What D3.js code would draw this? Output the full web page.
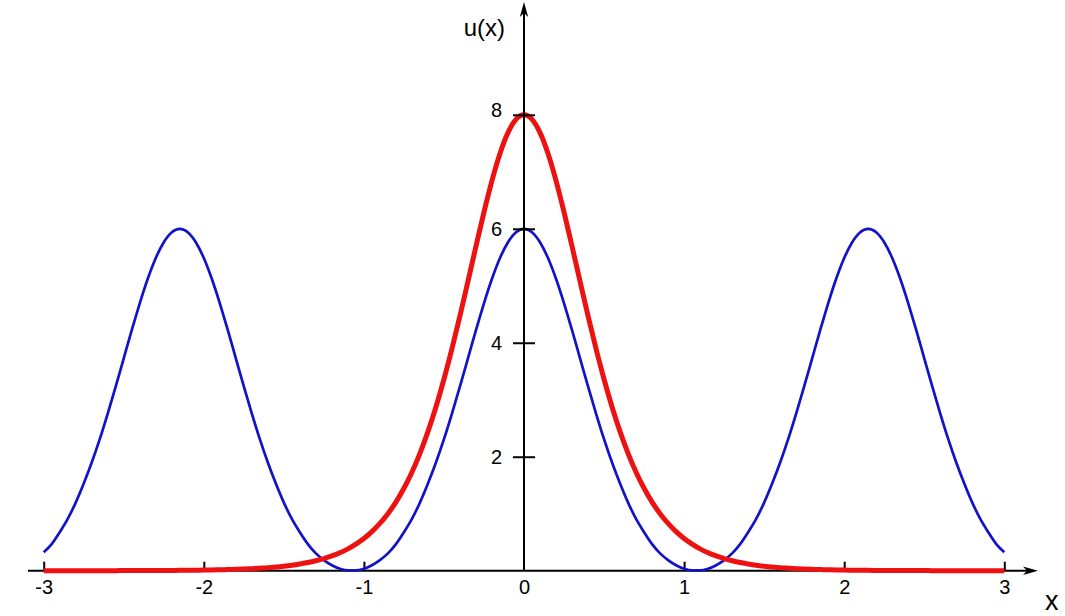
<!DOCTYPE html>
<html>
<head>
<meta charset="utf-8">
<script src="https://cdn.jsdelivr.net/npm/d3@7"></script>
<style>
  html, body { margin: 0; padding: 0; background: #fff; }
  svg { display: block; }
  text { font-family: "Liberation Sans", Arial, sans-serif; fill: #000; }
</style>
</head>
<body>
<svg id="chart" width="1065" height="616"></svg>
<script>
// ---- data ----
const xSamples = [
  -3.00,-2.95,-2.90,-2.85,-2.80,-2.75,-2.70,-2.65,-2.60,-2.55,
  -2.50,-2.45,-2.40,-2.35,-2.30,-2.25,-2.20,-2.15,-2.10,-2.05,
  -2.00,-1.95,-1.90,-1.85,-1.80,-1.75,-1.70,-1.65,-1.60,-1.55,
  -1.50,-1.45,-1.40,-1.35,-1.30,-1.25,-1.20,-1.15,-1.10,-1.05,
  -1.00,-0.95,-0.90,-0.85,-0.80,-0.75,-0.70,-0.65,-0.60,-0.55,
  -0.50,-0.45,-0.40,-0.35,-0.30,-0.25,-0.20,-0.15,-0.10,-0.05,
   0.00,
   0.05, 0.10, 0.15, 0.20, 0.25, 0.30, 0.35, 0.40, 0.45, 0.50,
   0.55, 0.60, 0.65, 0.70, 0.75, 0.80, 0.85, 0.90, 0.95, 1.00,
   1.05, 1.10, 1.15, 1.20, 1.25, 1.30, 1.35, 1.40, 1.45, 1.50,
   1.55, 1.60, 1.65, 1.70, 1.75, 1.80, 1.85, 1.90, 1.95, 2.00,
   2.05, 2.10, 2.15, 2.20, 2.25, 2.30, 2.35, 2.40, 2.45, 2.50,
   2.55, 2.60, 2.65, 2.70, 2.75, 2.80, 2.85, 2.90, 2.95, 3.00
];

// red (thick) curve: single peak of height 8 at x = 0
const redValues = [
  0,0,0,0,0,0.001,0.001,0.001,0.001,0.001,
  0.002,0.002,0.002,0.003,0.003,0.004,0.005,0.006,0.007,0.009,
  0.011,0.013,0.016,0.020,0.024,0.029,0.036,0.044,0.053,0.065,
  0.079,0.096,0.118,0.143,0.175,0.213,0.259,0.315,0.383,0.466,
  0.565,0.685,0.829,1.000,1.204,1.446,1.729,2.060,2.440,2.874,
  3.360,3.895,4.472,5.078,5.693,6.292,6.845,7.321,7.688,7.921,
  8,
  7.921,7.688,7.321,6.845,6.292,5.693,5.078,4.472,3.895,3.360,
  2.874,2.440,2.060,1.729,1.446,1.204,1.000,0.829,0.685,0.565,
  0.466,0.383,0.315,0.259,0.213,0.175,0.143,0.118,0.096,0.079,
  0.065,0.053,0.044,0.036,0.029,0.024,0.020,0.016,0.013,0.011,
  0.009,0.007,0.006,0.005,0.004,0.003,0.003,0.002,0.002,0.002,
  0.001,0.001,0.001,0.001,0.001,0,0,0,0,0
];

// blue (thin) curve: periodic peaks of height 6 at x = -2.15, 0, 2.15
const blueValues = [
  0.325,0.467,0.676,0.909,1.195,1.529,1.898,2.308,2.758,3.235,
  3.727,4.220,4.692,5.122,5.487,5.765,5.940,6,5.940,5.765,
  5.487,5.122,4.692,4.220,3.727,3.235,2.758,2.308,1.898,1.529,
  1.195,0.909,0.676,0.467,0.304,0.186,0.095,0.034,0.004,0.004,
  0.034,0.095,0.186,0.304,0.467,0.676,0.909,1.195,1.529,1.898,
  2.308,2.758,3.235,3.727,4.220,4.692,5.122,5.487,5.765,5.940,
  6,
  5.940,5.765,5.487,5.122,4.692,4.220,3.727,3.235,2.758,2.308,
  1.898,1.529,1.195,0.909,0.676,0.467,0.304,0.186,0.095,0.034,
  0.004,0.004,0.034,0.095,0.186,0.304,0.467,0.676,0.909,1.195,
  1.529,1.898,2.308,2.758,3.235,3.727,4.220,4.692,5.122,5.487,
  5.765,5.940,6,5.940,5.765,5.487,5.122,4.692,4.220,3.727,
  3.235,2.758,2.308,1.898,1.529,1.195,0.909,0.676,0.467,0.325
];

const xTickValues = [-3, -2, -1, 0, 1, 2, 3];
const xTickLabels = ["-3", "-2", "-1", "0", "1", "2", "3"];
const yTickValues = [2, 4, 6, 8];
const yTickLabels = ["2", "4", "6", "8"];
const xAxisTitle = "x";
const yAxisTitle = "u(x)";

// ---- drawing ----
const W = 1065, H = 616;
const svg = d3.select("#chart");
svg.append("rect").attr("width", W).attr("height", H).attr("fill", "#fff");

const x = d3.scaleLinear().domain([-3, 3]).range([43.7, 1004.3]);
const y = d3.scaleLinear().domain([0, 8]).range([570.7, 114.8]);
const x0 = x(0), y0 = y(0);

// x axis (line + arrow)
svg.append("line")
  .attr("x1", 28).attr("x2", 1030).attr("y1", y0).attr("y2", y0)
  .attr("stroke", "#000").attr("stroke-width", 2);
svg.append("path")
  .attr("d", `M1038,${y0} L1023,${y0 - 4.2} L1027,${y0} L1023,${y0 + 4.2} Z`)
  .attr("fill", "#000");

const xAxis = d3.axisBottom(x)
  .tickValues(xTickValues)
  .tickFormat((d, i) => xTickLabels[i])
  .tickSizeInner(-9)
  .tickSizeOuter(0)
  .tickPadding(9.2);
const gx = svg.append("g").attr("transform", `translate(0,${y0})`).call(xAxis);
gx.select(".domain").remove();
gx.selectAll(".tick line").attr("stroke", "#000").attr("stroke-width", 2)
  .filter(d => d === 0).remove();
gx.selectAll(".tick text")
  .attr("font-size", 20).attr("font-family", "'Liberation Sans', Arial, sans-serif")
  .attr("fill", "#000");

// curves
const line = d3.line()
  .x((d, i) => x(xSamples[i]))
  .y(d => y(d))
  .curve(d3.curveMonotoneX);

svg.append("path")
  .datum(blueValues)
  .attr("d", line)
  .attr("fill", "none")
  .attr("stroke", "#1212c8")
  .attr("stroke-width", 2.7)
  .attr("stroke-linejoin", "round");

svg.append("path")
  .datum(redValues)
  .attr("d", line)
  .attr("fill", "none")
  .attr("stroke", "#ee1111")
  .attr("stroke-width", 5)
  .attr("stroke-linejoin", "round")
  .attr("stroke-linecap", "butt");

// y axis (drawn over curves)
svg.append("line")
  .attr("x1", x0).attr("x2", x0).attr("y1", y0).attr("y2", 12)
  .attr("stroke", "#000").attr("stroke-width", 2);
svg.append("path")
  .attr("d", `M${x0},2 L${x0 - 4.2},17 L${x0},13 L${x0 + 4.2},17 Z`)
  .attr("fill", "#000");

const yAxis = d3.axisLeft(y)
  .tickValues(yTickValues)
  .tickFormat((d, i) => yTickLabels[i])
  .tickSizeInner(11)
  .tickSizeOuter(0)
  .tickPadding(11);
const gy = svg.append("g").attr("transform", `translate(${x0},0)`).call(yAxis);
gy.select(".domain").remove();
gy.selectAll(".tick line").attr("x1", 11).attr("x2", -11)
  .attr("stroke", "#000").attr("stroke-width", 2);
gy.selectAll(".tick text")
  .attr("font-size", 20).attr("font-family", "'Liberation Sans', Arial, sans-serif")
  .attr("fill", "#000")
  .attr("dy", d => d === 8 ? "0.1em" : "0.34em");

// axis titles
svg.append("text")
  .attr("x", 505).attr("y", 36)
  .attr("text-anchor", "end")
  .attr("font-size", 24)
  .text(yAxisTitle);

svg.append("text")
  .attr("x", 1045).attr("y", 610)
  .attr("text-anchor", "start")
  .attr("font-size", 27)
  .text(xAxisTitle);
</script>
</body>
</html>
